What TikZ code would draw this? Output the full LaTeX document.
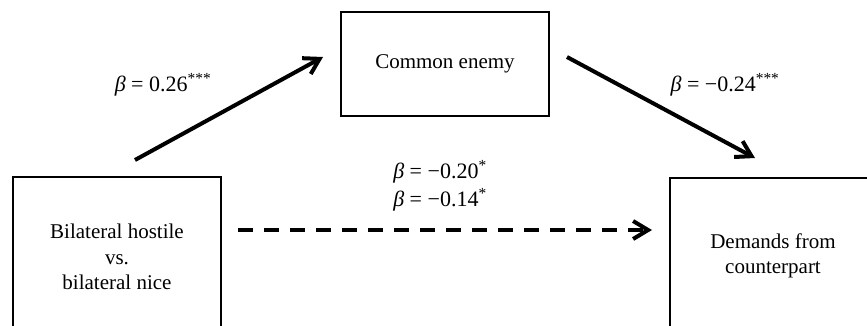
\documentclass[tikz,border=0pt]{standalone}
\usepackage{fontspec}
\setmainfont{Liberation Serif}
\usetikzlibrary{arrows.meta}
\tikzset{
  box/.style={draw, line width=2.3pt, align=center, inner sep=0pt, font=\fontsize{21}{25.5}\selectfont},
  path/.style={line width=4pt, -{Straight Barb[length=15pt,width=18pt,line width=4pt]}},
  dpath/.style={path, dash pattern=on 15pt off 11pt},
  lab/.style={font=\fontsize{22}{28}\selectfont, inner sep=0pt}
}
\newcommand{\bet}{\textit{β}}
\begin{document}
\begin{tikzpicture}[x=1pt,y=-1pt]
\useasboundingbox (0,0) rectangle (867,325);
\clip (0,0) rectangle (867,325);
\node[box, minimum width=208pt, minimum height=160pt] (L) at (117,257) {Bilateral hostile\\vs.\\bilateral nice};
\node[box, minimum width=206pt, minimum height=156pt] (R) at (773,256) {Demands from\\counterpart};
\node[box, minimum width=208pt, minimum height=104pt] (C) at (445,64) {Common enemy};
\coordinate (a1) at (135,160);
\coordinate (a2) at (323,57);
\coordinate (b1) at (567,57);
\coordinate (b2) at (755,158);
\coordinate (d1) at (238,230);
\coordinate (d2) at (652,230);
\draw[path] (a1) -- (a2);
\draw[path] (b1) -- (b2);
\draw[dpath] (d1) -- (d2);
\node[lab] (la) at (163,85) {\bet{} = 0.26\textsuperscript{***}};
\node[lab] (lb) at (725,85) {\bet{} = −0.24\textsuperscript{***}};
\node[lab] (lc) at (440,172) {\bet{} = −0.20\textsuperscript{*}};
\node[lab] (ld) at (440,200) {\bet{} = −0.14\textsuperscript{*}};
\end{tikzpicture}
\end{document}
